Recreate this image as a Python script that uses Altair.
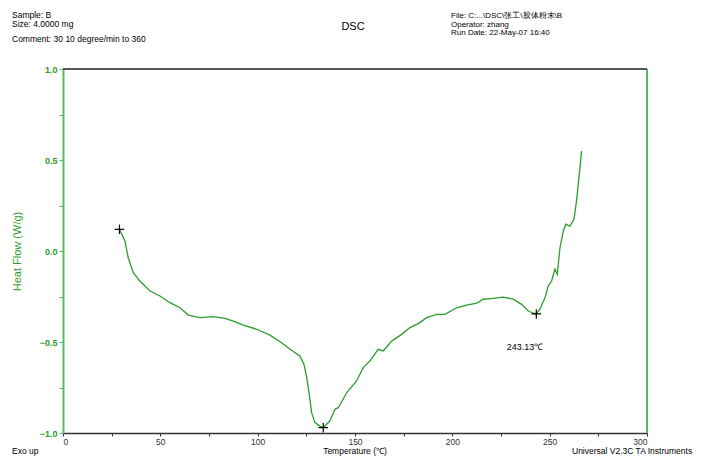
import altair as alt
import pandas as pd

# Temperature (degC) and heat flow (W/g)
temperature = [29.0, 31.8, 33.5, 36.1, 39.5, 44.7, 49.8, 55.0, 60.1, 64.4, 70.4, 77.2,
               83.2, 87.5, 92.6, 99.5, 106.3, 112.3, 116.6, 121.7, 123.8, 125.2, 126.5,
               127.7, 129.4, 132.0, 133.7, 137.1, 139.7, 141.4, 145.7, 150.8, 154.2,
               157.7, 161.9, 164.5, 168.8, 174.0, 178.2, 182.5, 186.8, 191.9, 196.2,
               202.2, 207.3, 212.5, 215.9, 221.0, 226.1, 231.3, 235.6, 239.0, 241.6,
               243.1, 245.0, 247.6, 249.3, 251.0, 252.7, 253.9, 255.3, 257.0, 258.3,
               260.4, 262.5, 263.8, 265.2, 266.4]
heat_flow = [0.119, 0.055, -0.037, -0.119, -0.165, -0.220, -0.247, -0.284, -0.312, -0.352,
             -0.366, -0.361, -0.370, -0.385, -0.407, -0.430, -0.462, -0.504, -0.540, -0.577,
             -0.623, -0.696, -0.787, -0.888, -0.943, -0.962, -0.971, -0.934, -0.870, -0.861,
             -0.779, -0.714, -0.641, -0.604, -0.540, -0.549, -0.495, -0.458, -0.421, -0.399,
             -0.366, -0.348, -0.348, -0.312, -0.298, -0.287, -0.265, -0.260, -0.253, -0.265,
             -0.293, -0.330, -0.342, -0.346, -0.320, -0.257, -0.192, -0.165, -0.100, -0.128,
             0.018, 0.110, 0.147, 0.137, 0.174, 0.275, 0.420, 0.549]

marker_t = [29.0, 133.7, 243.13]
marker_hf = [0.119, -0.971, -0.346]

x_ticks = [0, 25, 50, 75, 100, 125, 150, 175, 200, 225, 250, 275, 300]
y_ticks = [-1.0, -0.75, -0.5, -0.25, 0.0, 0.25, 0.5, 0.75, 1.0]

GREEN_LINE = "#2a9d2a"
GREEN_AXIS = "#5cb85c"
DARK = "#333333"
FONT = "Liberation Sans"

df = pd.DataFrame({"T": temperature, "HF": heat_flow})
mk = pd.DataFrame({"T": marker_t, "HF": marker_hf})
one = pd.DataFrame({"k": [0]})

xs = alt.Scale(domain=[0, 300], nice=False, zero=False)
ys = alt.Scale(domain=[-1.0, 1.0], nice=False, zero=False)

x_axis = alt.Axis(values=x_ticks, labelExpr="datum.value % 50 == 0 ? datum.label : ''",
                  grid=False, title=None, domainColor=DARK, tickColor=DARK, tickSize=3,
                  labelColor=DARK, labelFontSize=8.5, labelFont=FONT, labelFontWeight="normal",
                  labelPadding=1, domainWidth=1.5)
y_axis = alt.Axis(values=y_ticks,
                  labelExpr="abs(datum.value*2 - round(datum.value*2)) < 0.001 ? format(datum.value, '.1f') : ''",
                  grid=False, title="Heat Flow (W/g)", titleColor=GREEN_LINE, titleFontSize=11,
                  titleFont=FONT, titleFontWeight="normal", titleX=-46, titleY=182,
                  titleAngle=-90, titleAlign="center", titleBaseline="middle",
                  domainColor=GREEN_AXIS, tickColor=GREEN_AXIS, tickSize=4, domainWidth=2,
                  labelColor=GREEN_LINE, labelFontSize=9, labelFont=FONT, labelFontWeight="bold",
                  labelPadding=2)

line = alt.Chart(df).mark_line(color=GREEN_LINE, strokeWidth=1.3).encode(
    x=alt.X("T:Q", scale=xs, axis=x_axis),
    y=alt.Y("HF:Q", scale=ys, axis=y_axis),
    order="T:Q",
)

right_border = alt.Chart(one).mark_rule(color=GREEN_AXIS, strokeWidth=2).encode(
    x=alt.datum(300, scale=xs), y=alt.value(0), y2=alt.value(364))
top_border = alt.Chart(one).mark_rule(color="#555555", strokeWidth=2).encode(
    y=alt.datum(1.0, scale=ys), x=alt.value(0), x2=alt.value(584))

markers = alt.Chart(mk).mark_point(shape="M-1,0L1,0M0,-1L0,1", size=90, color="black",
                                   strokeWidth=1.2, filled=False, opacity=1).encode(
    x=alt.X("T:Q", scale=xs), y=alt.Y("HF:Q", scale=ys))

peak_label = alt.Chart(one).mark_text(text="243.13℃", fontSize=9, font=FONT, color="black").encode(
    x=alt.datum(237.3, scale=xs), y=alt.datum(-0.53, scale=ys))


def txt(s, x, y, size=8.5, align="left", baseline="middle", color="black"):
    return alt.Chart(one).mark_text(text=s, fontSize=size, font=FONT, align=align,
                                    baseline=baseline, color=color).encode(
        x=alt.value(x), y=alt.value(y))


texts = [
    txt("Sample: B", -51, -54),
    txt("Size:   4.0000 mg", -51, -45),
    txt("Comment: 30 10 degree/min to 360", -51, -30),
    txt("DSC", 290, -42, size=11, align="center"),
    txt("File: C:...\\DSC\\张工\\胶体粉末\\B", 388, -53, size=8),
    txt("Operator: zhang", 388, -44.5, size=8),
    txt("Run Date: 22-May-07 16:40", 388, -36, size=8),
    txt("Exo up", -51, 387, baseline="bottom"),
    txt("Temperature (℃)", 292, 387, size=8.5, align="center", baseline="bottom"),
    txt("Universal V2.3C TA Instruments", 509, 387, baseline="bottom"),
]

chart = alt.layer(line, right_border, top_border, markers, peak_label, *texts).properties(
    width=584, height=364,
    autosize=alt.AutoSizeParams(type="none"),
    padding={"left": 55, "top": 61, "right": 49, "bottom": 23},
).configure_view(stroke=None).configure(background="white")

chart.save("out.html", embed_options={"renderer": "svg", "actions": False})
